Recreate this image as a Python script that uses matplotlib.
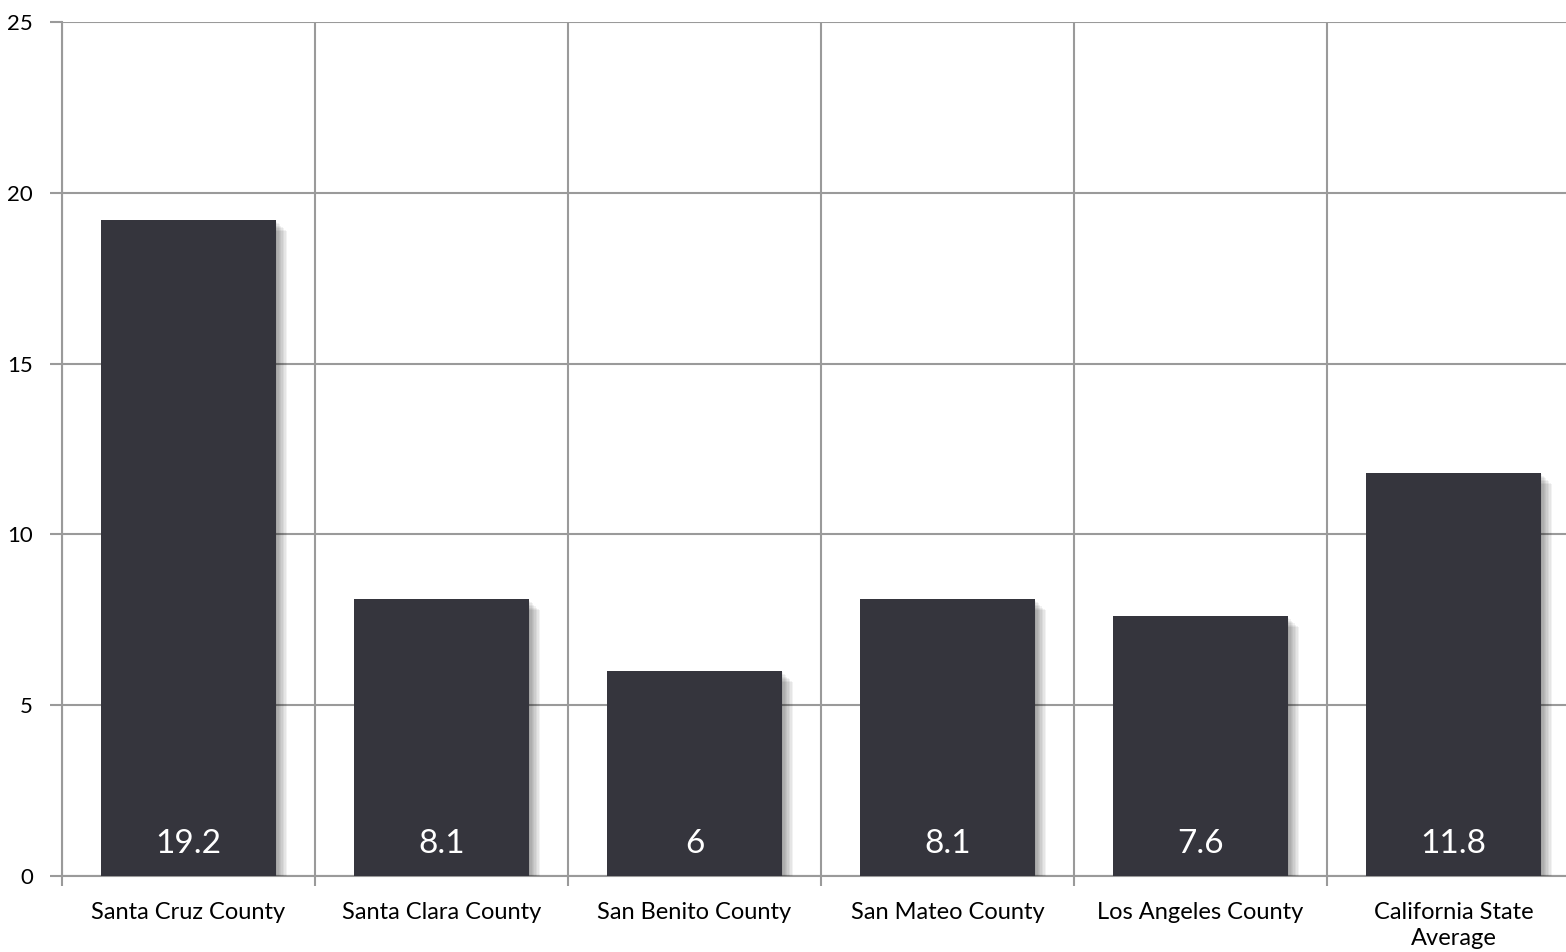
import matplotlib.pyplot as plt
import matplotlib.patheffects as pe

categories = ['Santa Cruz County', 'Santa Clara County', 'San Benito County',
              'San Mateo County', 'Los Angeles County', 'California State\nAverage']
values = [19.2, 8.1, 6, 8.1, 7.6, 11.8]
labels = ['19.2', '8.1', '6', '8.1', '7.6', '11.8']

plt.rcParams['font.family'] = ['Lato', 'DejaVu Sans']

fig = plt.figure(figsize=(15.66, 9.52), dpi=100)
ax = fig.add_axes([62 / 1566, 76 / 952, 1518 / 1566, 854 / 952])

grid_c = '#9a9a9a'

# soft drop shadow made of a few offset layers
shadow = [pe.SimplePatchShadow(offset=(o, -o), shadow_rgbFace='black', alpha=0.05)
          for o in (1, 2, 3, 4, 5, 6, 7, 8)] + [pe.Normal()]

bars = ax.bar(range(len(values)), values, width=0.69, color='#35353d', zorder=3)
for b in bars:
    b.set_path_effects(shadow)

for i, t in enumerate(labels):
    ax.text(i, 0.95, t, ha='center', va='center', color='white', fontsize=24, zorder=4)

ax.set_xlim(-0.5, 5.5)
ax.set_ylim(0, 25)
ax.set_yticks([0, 5, 10, 15, 20, 25])
ax.set_xticks(range(len(categories)))
ax.set_xticklabels(categories, linespacing=1.3)
ax.set_xticks([i - 0.5 for i in range(7)], minor=True)

ax.tick_params(axis='x', which='major', length=0, pad=19, labelsize=17)
ax.tick_params(axis='x', which='minor', length=7, width=1.5, color=grid_c)
ax.tick_params(axis='y', length=9, width=1.5, color=grid_c, labelsize=16, pad=12)

ax.yaxis.grid(True, color=grid_c, linewidth=1.5, zorder=0)
ax.xaxis.grid(True, which='minor', color=grid_c, linewidth=1.5, zorder=0)
ax.set_axisbelow(True)

for s in ['top', 'right']:
    ax.spines[s].set_visible(False)
ax.spines['left'].set_color(grid_c)
ax.spines['left'].set_linewidth(1.5)
ax.spines['bottom'].set_color(grid_c)
ax.spines['bottom'].set_linewidth(1.5)

fig.savefig('out.png', dpi=100)
